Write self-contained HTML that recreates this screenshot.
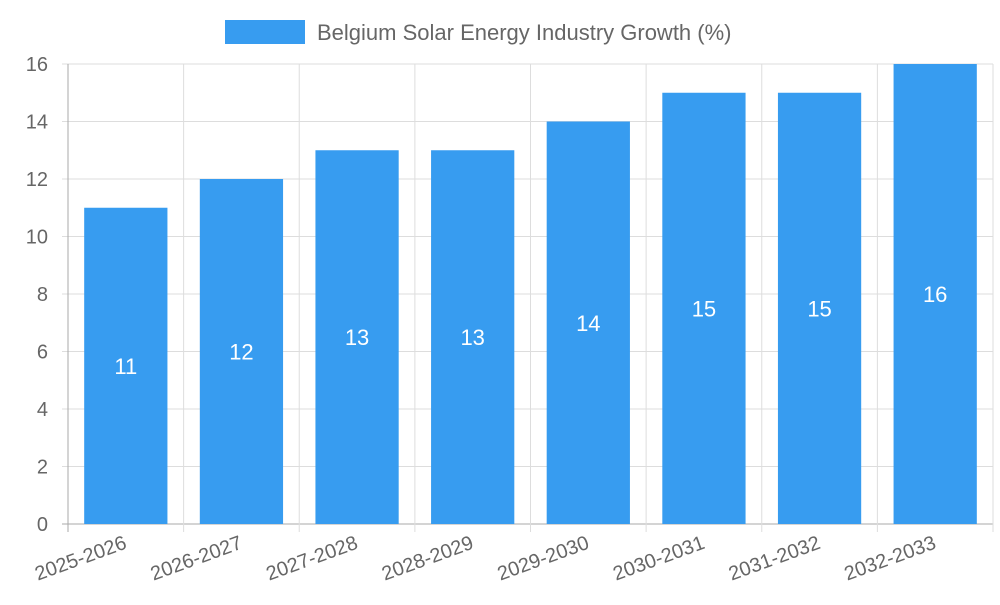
<!DOCTYPE html>
<html><head><meta charset="utf-8"><style>
body{margin:0;background:#fff;font-family:"Liberation Sans",sans-serif}
</style></head><body>
<svg id="chart" width="1000" height="600" xmlns="http://www.w3.org/2000/svg" font-family="Liberation Sans, sans-serif">
<g>
<rect x="225" y="20" width="80" height="24" fill="#379cf0"/>
<text x="317" y="40" font-size="22" fill="#666">Belgium Solar Energy Industry Growth (%)</text>
</g>
<g id="grid"></g>
<g id="bars"></g>
<g id="axes"></g>
</svg>
<script>
const categories=["2025-2026","2026-2027","2027-2028","2028-2029","2029-2030","2030-2031","2031-2032","2032-2033"];
const values=[11,12,13,13,14,15,15,16];
const yTicks=[0,2,4,6,8,10,12,14,16];
const NS="http://www.w3.org/2000/svg";
const L=68,R=993,T=64,B=524,yMax=16;
const y=v=>B-(v/yMax)*(B-T);
const bw=(R-L)/categories.length;
const x=i=>L+i*bw;
function mk(tag,attrs,parent,txt){const e=document.createElementNS(NS,tag);for(const k in attrs)e.setAttribute(k,attrs[k]);if(txt!==undefined)e.textContent=txt;document.getElementById(parent).appendChild(e);return e;}
yTicks.forEach(t=>{
 const g=mk('line',{x1:L-6,x2:R,y1:y(t),y2:y(t),stroke:t===0?'#aaa':'#ddd','stroke-width':1},'grid');
 
 
 const lb=mk('text',{x:48,y:y(t)+7,'text-anchor':'end','font-size':20,fill:'#666'},'axes',String(t));
 
 
});
for(let i=0;i<=categories.length;i++){
 const g=mk('line',{x1:x(i),x2:x(i),y1:T,y2:B+8,stroke:i===0?'#aaa':'#ddd','stroke-width':1},'grid');
 
 
}
categories.forEach((c,i)=>{
 const cx=x(i)+bw/2,w=bw*0.72;
 const r=mk('rect',{x:cx-w/2,y:y(values[i]),width:w,height:B-y(values[i]),fill:'#379cf0'},'bars');
 
 
 const v=mk('text',{x:cx,y:(y(values[i])+B)/2+8,'text-anchor':'middle','font-size':22,fill:'#fff'},'bars',String(values[i]));
 
 
 const lb=mk('text',{x:cx+2,y:548,'text-anchor':'end','font-size':20,fill:'#666',transform:`rotate(-20 ${cx+2} 548)`},'axes',c);
 
 
});
</script>
</body></html>
